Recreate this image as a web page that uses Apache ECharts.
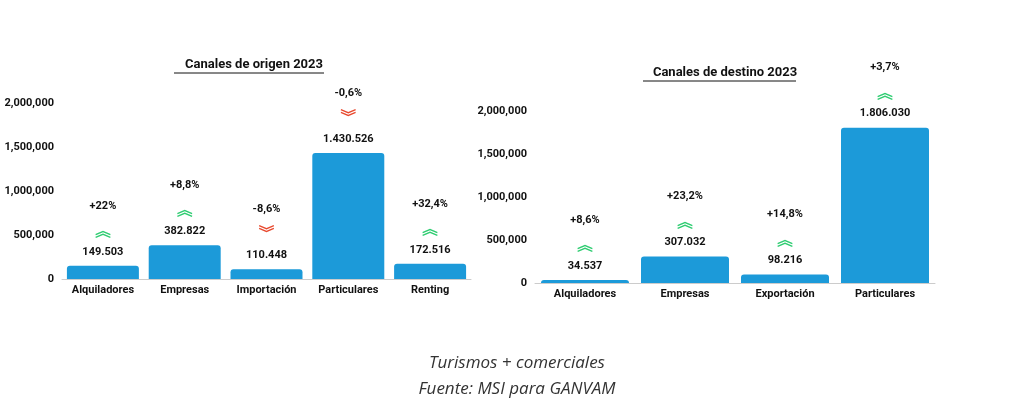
<!DOCTYPE html>
<html><head><meta charset="utf-8">
<script src="https://cdn.jsdelivr.net/npm/echarts@6/dist/echarts.min.js"></script>
<style>html,body{margin:0;padding:0;background:#fff}#c{width:1024px;height:409px}</style>
</head><body><div id="c"></div>
<script>
const catsOrigen = ['Alquiladores','Empresas','Importación','Particulares','Renting'];
const valsOrigen = [149503, 382822, 110448, 1430526, 172516];
const pctOrigen = ['+22%','+8,8%','-8,6%','-0,6%','+32,4%'];
const catsDestino = ['Alquiladores','Empresas','Exportación','Particulares'];
const valsDestino = [34537, 307032, 98216, 1806030];
const pctDestino = ['+8,6%','+23,2%','+14,8%','+3,7%'];
const yTicks = [0, 500000, 1000000, 1500000, 2000000];

const fmtNum = v => String(v).replace(/\B(?=(\d{3})+(?!\d))/g, '.');
function labelFor(pcts){
  return {
    show:true, position:'top', distance:4,
    formatter: p => {
      const pc = pcts[p.dataIndex];
      const arrow = pc.startsWith('-') ? '{d|︾}' : '{u|︽}';
      return '{p|'+pc+'}\n'+arrow+'\n{v|'+fmtNum(p.value)+'}';
    },
    rich:{
      p:{fontSize:11,fontWeight:'bold',color:'#111',lineHeight:24,fontFamily:'Roboto'},
      u:{fontSize:16,color:'#2ecc71',lineHeight:24,fontFamily:'Noto Sans CJK SC',fontWeight:'bold'},
      d:{fontSize:16,color:'#e8492e',lineHeight:24,fontFamily:'Noto Sans CJK SC',fontWeight:'bold'},
      v:{fontSize:11,fontWeight:'bold',color:'#111',lineHeight:20,fontFamily:'Roboto'}
    }
  };
}
const yAx = (gi) => ({type:'value',gridIndex:gi,min:0,max:2000000,interval:500000,
  axisLabel:{fontSize:11,fontWeight:'bold',color:'#111',fontFamily:'Roboto',
    formatter:v=>v.toLocaleString('en-US')},
  splitLine:{show:false},axisLine:{show:false},axisTick:{show:false}});
const xAx = (gi,cats) => ({type:'category',gridIndex:gi,data:cats,
  axisLabel:{fontSize:11,fontWeight:'bold',color:'#111',fontFamily:'Roboto',margin:6},
  axisLine:{lineStyle:{color:'#ccc'}},axisTick:{show:false}});
const chart = echarts.init(document.getElementById('c'));
chart.setOption({
  animation:false,
  title:[
    {text:'Canales de origen 2023',left:249,top:53,textAlign:'center',
     textStyle:{fontSize:13,fontWeight:'bold',color:'#111',fontFamily:'Roboto',textBorderWidth:0,
     rich:{}},subtext:''},
    {text:'Canales de destino 2023',left:720,top:61,textAlign:'center',
     textStyle:{fontSize:13,fontWeight:'bold',color:'#111',fontFamily:'Roboto'}},
    {text:'Turismos + comerciales\nFuente: MSI para GANVAM',left:512,top:345,textAlign:'center',
     textStyle:{fontSize:17,fontStyle:'italic',fontWeight:'normal',color:'#333',lineHeight:26,fontFamily:'Open Sans'}}
  ],
  graphic:[
    {type:'line',shape:{x1:174,y1:73,x2:324,y2:73},style:{stroke:'#111',lineWidth:1}},
    {type:'line',shape:{x1:643,y1:81,x2:796,y2:81},style:{stroke:'#111',lineWidth:1}}
  ],
  grid:[{left:62,width:409,top:103,height:176},{left:535,width:400,top:111,height:172}],
  xAxis:[xAx(0,catsOrigen),xAx(1,catsDestino)],
  yAxis:[yAx(0),yAx(1)],
  series:[
    {type:'bar',xAxisIndex:0,yAxisIndex:0,data:valsOrigen,barCategoryGap:'12%',
     itemStyle:{color:'#1c9ad9',borderRadius:[3,3,0,0]},label:labelFor(pctOrigen)},
    {type:'bar',xAxisIndex:1,yAxisIndex:1,data:valsDestino,barCategoryGap:'12%',
     itemStyle:{color:'#1c9ad9',borderRadius:[3,3,0,0]},label:labelFor(pctDestino)}
  ]
});
</script></body></html>
